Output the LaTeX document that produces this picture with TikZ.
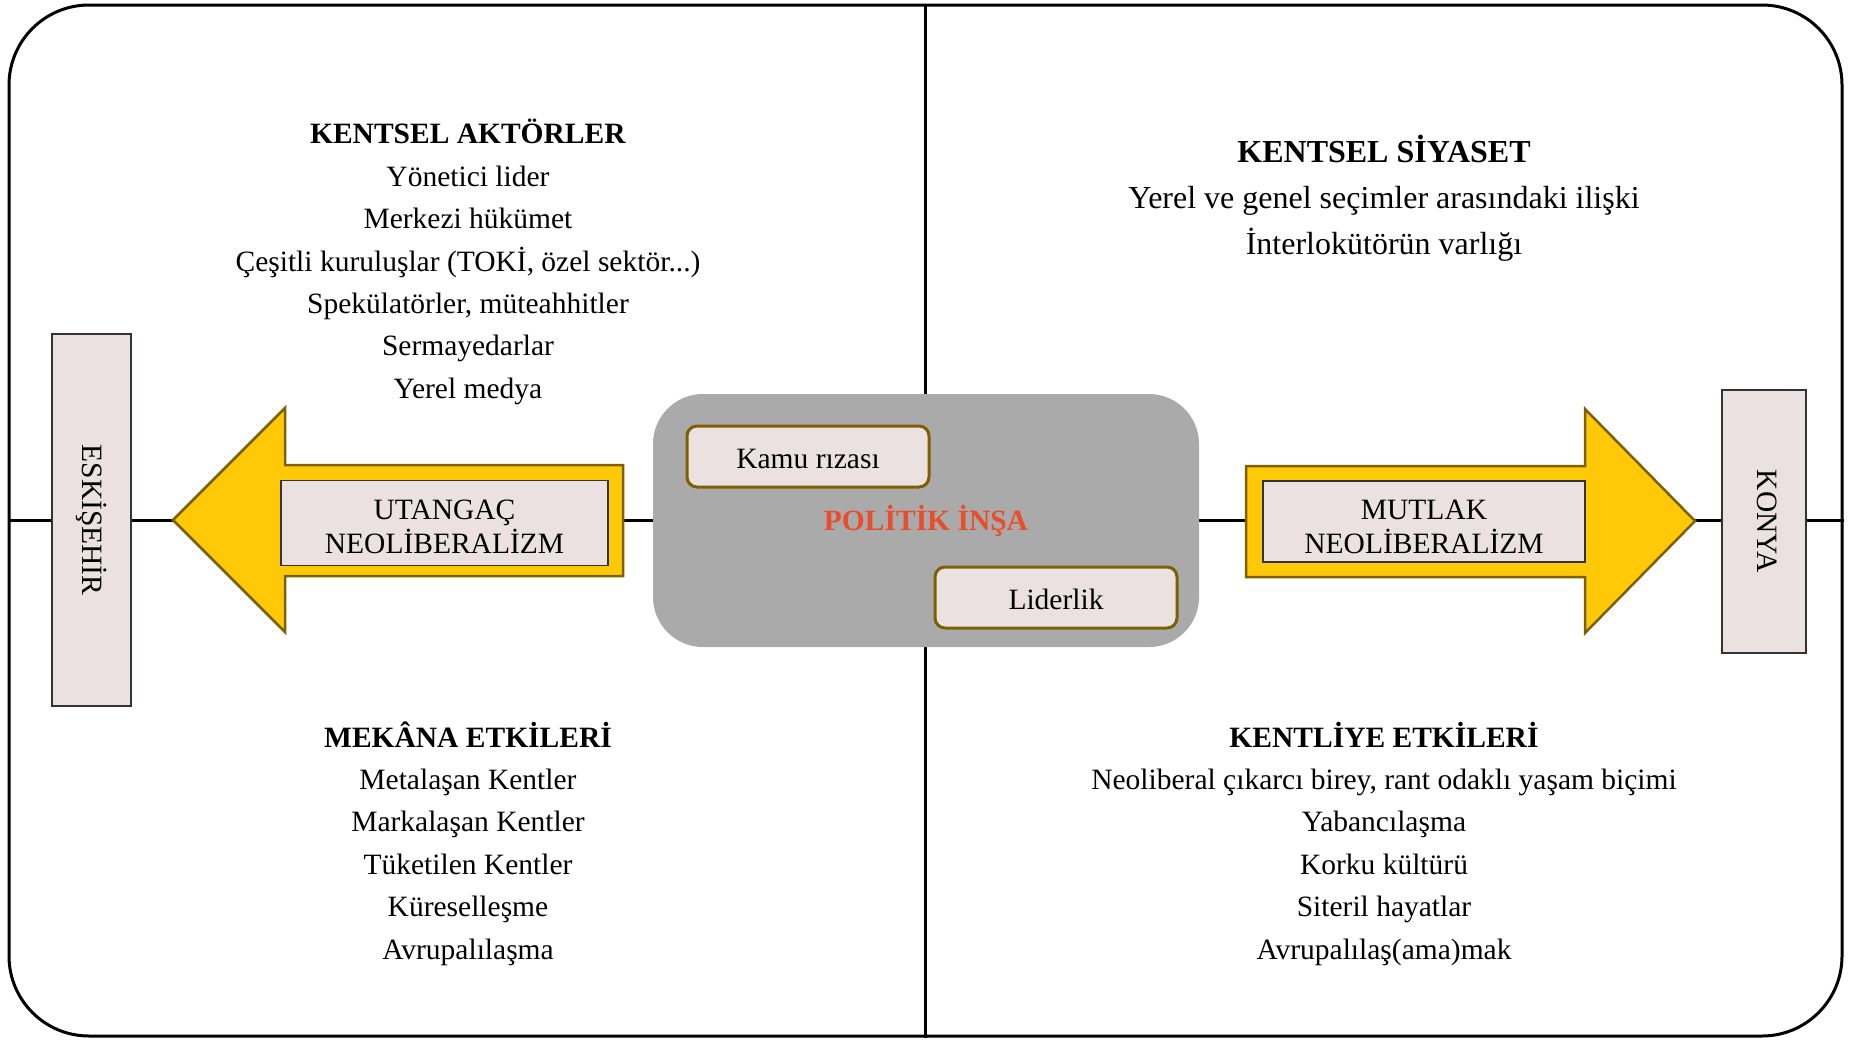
\documentclass[tikz,border=0pt]{standalone}
\usepackage{fontspec}
\setmainfont{Liberation Serif}
\definecolor{pinkfill}{RGB}{235,225,225}
\definecolor{goldfill}{RGB}{255,201,8}
\definecolor{goldline}{RGB}{127,96,0}
\definecolor{grayfill}{RGB}{170,170,170}
\definecolor{insared}{RGB}{232,78,44}

\begin{document}
\begin{tikzpicture}[x=1pt,y=1pt,line width=3pt]

  \tikzstyle{txt}=[align=center,inner sep=0pt,font=\fontsize{29.5}{42.4}\selectfont]
  \tikzstyle{txtwide}=[align=center,inner sep=0pt,font=\fontsize{32}{46}\selectfont]
  \tikzstyle{boxtext}=[align=center,font=\fontsize{29.5}{34}\selectfont,yshift=-4pt]
  \tikzstyle{namebox}=[draw=black!80,line width=1.2pt,fill=pinkfill,font=\fontsize{29.5}{34}\selectfont]
  \tikzstyle{citybox}=[namebox,rotate=-90]
  \tikzstyle{tagbox}=[draw=goldline,line width=3pt,fill=pinkfill,rounded corners=10pt,minimum width=242pt,minimum height=61pt,text height=24.6pt,text depth=0pt,font=\fontsize{29.5}{34}\selectfont]
  \tikzstyle{bigarrow}=[draw=goldline,line width=2.5pt,fill=goldfill,line join=miter]

  \useasboundingbox (0,0) rectangle (1849,-1039);

  \node (frame) [draw,line width=3pt,rounded corners=80pt,minimum width=1833pt,minimum height=1031pt] at (925.5,-520.5) {};

  % eksenler
  \draw (frame.west) -- (frame.east);
  \draw (frame.north) -- (frame.south);

  % orta kutu
  \node (core) [fill=grayfill,rounded corners=50pt,minimum width=546pt,minimum height=253pt,text=insared,font=\bfseries\fontsize{29.5}{34}\selectfont] at (926,-520.5) {POLİTİK İNŞA};
  \node (riza) [tagbox] at (808,-456.5) {Kamu rızası};
  \node (lider) [tagbox] at (1056,-597.5) {Liderlik};

  % sol ok
  \draw [bigarrow] (623,-465) -- (285,-465) -- (285,-408) -- (173,-520)
    -- (285,-632) -- (285,-576) -- (623,-576) -- cycle;
  \node (utangac) [namebox,minimum width=327pt,minimum height=85pt,
    label={[boxtext]center:{UTANGAÇ\\NEOLİBERALİZM}}] at (444.5,-523) {};

  % sag ok
  \draw [bigarrow] (1246,-466) -- (1585,-466) -- (1585,-409) -- (1695,-521)
    -- (1585,-633) -- (1585,-577) -- (1246,-577) -- cycle;
  \node (mutlak) [namebox,minimum width=322pt,minimum height=81pt,
    label={[boxtext,yshift=-1pt]center:{MUTLAK\\NEOLİBERALİZM}}] at (1424,-521.5) {};

  % sehirler
  \node (eskisehir) [citybox,minimum width=372pt,minimum height=79pt] at (91.5,-520) {ESKİŞEHİR};
  \node (konya) [citybox,minimum width=263pt,minimum height=84pt,text height=19.5pt,text depth=6pt] at (1764,-521.5) {KONYA};

  % metinler
  \node (aktorler) [txt] at (468,-262) {\textbf{KENTSEL AKTÖRLER}\\Yönetici lider\\Merkezi hükümet\\Çeşitli kuruluşlar (TOKİ, özel sektör...)\\Spekülatörler, müteahhitler\\Sermayedarlar\\Yerel medya};
  \node (siyaset) [txtwide] at (1384,-198.5) {\textbf{KENTSEL SİYASET}\\Yerel ve genel seçimler arasındaki ilişki\\İnterlokütörün varlığı};
  \node (mekan) [txt] at (468,-843.5) {\textbf{MEKÂNA ETKİLERİ}\\Metalaşan Kentler\\Markalaşan Kentler\\Tüketilen Kentler\\Küreselleşme\\Avrupalılaşma};
  \node (kentli) [txt] at (1384,-843.5) {\textbf{KENTLİYE ETKİLERİ}\\Neoliberal çıkarcı birey, rant odaklı yaşam biçimi\\Yabancılaşma\\Korku kültürü\\Siteril hayatlar\\Avrupalılaş(ama)mak};

\end{tikzpicture}
\end{document}
